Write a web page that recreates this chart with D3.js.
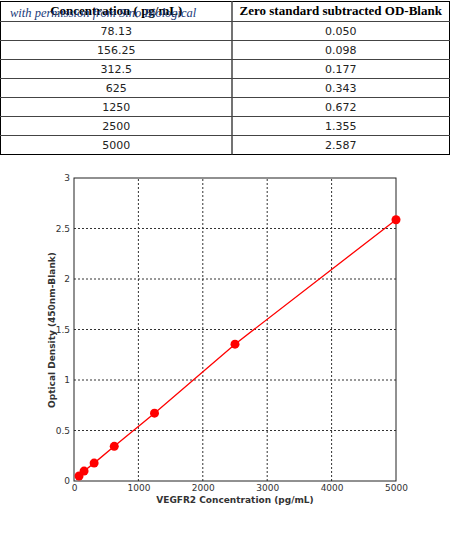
<!DOCTYPE html>
<html><head><meta charset="utf-8">
<script src="https://cdn.jsdelivr.net/npm/d3@7"></script>
<style>body{margin:0;background:#fff}</style>
</head><body>
<svg id="c" width="450" height="542"></svg>
<script>
const concentrations = [78.13, 156.25, 312.5, 625, 1250, 2500, 5000]
const concLabels = ['78.13', '156.25', '312.5', '625', '1250', '2500', '5000']
const odValues = [0.050, 0.098, 0.177, 0.343, 0.672, 1.355, 2.587]
const xTicks = [0, 1000, 2000, 3000, 4000, 5000]
const yTicks = [0, 0.5, 1, 1.5, 2, 2.5, 3]

const svg = d3.select('#c')

// table
const rowH = 19, tblTop = 1, colX = [0.5, 232, 449.5]
const tbl = svg.append('g')
const nRows = concentrations.length + 1
tbl.append('rect').attr('x', colX[0]).attr('y', tblTop + 0.5).attr('width', colX[2] - colX[0]).attr('height', rowH * nRows + 1)
  .attr('fill', 'none').attr('stroke', '#000')
for (let i = 1; i < nRows; i++) {
  tbl.append('line').attr('x1', 0).attr('x2', 450).attr('y1', tblTop + 1 + rowH * i + 0.5).attr('y2', tblTop + 1 + rowH * i + 0.5)
    .attr('stroke', '#444')
}
tbl.append('line').attr('x1', colX[1]).attr('x2', colX[1]).attr('y1', tblTop).attr('y2', tblTop + rowH * nRows + 1.5).attr('stroke', '#444').attr('stroke-width', 1.5)
const hdr = ['Concentration ( pg/mL)', 'Zero standard subtracted OD-Blank']
hdr.forEach((t, i) => tbl.append('text').text(t).attr('x', (colX[i] + colX[i + 1]) / 2).attr('y', tblTop + 14)
  .attr('text-anchor', 'middle').attr('font-family', 'Liberation Serif').attr('font-weight', 'bold').attr('font-size', 13))
concLabels.forEach((t, i) => {
  const ty = tblTop + rowH * (i + 1) + 15
  tbl.append('text').text(t).attr('x', (colX[0] + colX[1]) / 2).attr('y', ty).attr('text-anchor', 'middle')
    .attr('font-family', 'DejaVu Sans').attr('font-size', 11).attr('fill', '#222')
  tbl.append('text').text(odValues[i].toFixed(3)).attr('x', (colX[1] + colX[2]) / 2).attr('y', ty).attr('text-anchor', 'middle')
    .attr('font-family', 'DejaVu Sans').attr('font-size', 11).attr('fill', '#222')
})
tbl.append('text').text('with permission from Sino Biological').attr('x', 10).attr('y', 17)
  .attr('font-family', 'Liberation Serif').attr('font-style', 'italic').attr('font-size', 12.5).attr('fill', '#1a3a7a')

// chart
const x = d3.scaleLinear().domain([0, 5000]).range([74, 396])
const y = d3.scaleLinear().domain([0, 3]).range([481, 178])

const grid = svg.append('g').attr('stroke', '#333').attr('stroke-dasharray', '2,2')
xTicks.slice(1, -1).forEach(t => grid.append('line').attr('x1', x(t)).attr('x2', x(t)).attr('y1', y(0)).attr('y2', y(3)))
yTicks.slice(1, -1).forEach(t => grid.append('line').attr('x1', x(0)).attr('x2', x(5000)).attr('y1', y(t)).attr('y2', y(t)))

svg.append('rect').attr('x', x(0)).attr('y', y(3)).attr('width', x(5000) - x(0)).attr('height', y(0) - y(3))
  .attr('fill', 'none').attr('stroke', '#222')

const xAxis = svg.append('g').attr('transform', `translate(0,${y(0)})`)
  .call(d3.axisBottom(x).tickValues(xTicks).tickSize(0).tickPadding(4).tickFormat(d3.format('d')))
const yAxis = svg.append('g').attr('transform', `translate(${x(0)},0)`)
  .call(d3.axisLeft(y).tickValues(yTicks).tickSize(0).tickPadding(4).tickFormat(d => d))
;[xAxis, yAxis].forEach(a => {
  a.select('.domain').remove()
  a.selectAll('text').attr('font-family', 'DejaVu Sans').attr('font-size', 9).attr('fill', '#333')
})

svg.append('text').text('VEGFR2 Concentration (pg/mL)').attr('x', 235).attr('y', 503).attr('text-anchor', 'middle')
  .attr('font-family', 'DejaVu Sans').attr('font-weight', 'bold').attr('font-size', 9).attr('fill', '#333')
svg.append('text').text('Optical Density (450nm-Blank)').attr('transform', `translate(55,330) rotate(-90)`)
  .attr('text-anchor', 'middle').attr('font-family', 'DejaVu Sans').attr('font-weight', 'bold').attr('font-size', 9).attr('fill', '#333')

const pts = concentrations.map((c, i) => [c, odValues[i]])
svg.append('path').datum(pts).attr('fill', 'none').attr('stroke', 'red').attr('stroke-width', 1.3)
  .attr('d', d3.line().x(d => x(d[0])).y(d => y(d[1])))
svg.selectAll('circle.pt').data(pts).join('circle').attr('class', 'pt')
  .attr('cx', d => x(d[0])).attr('cy', d => y(d[1])).attr('r', 4.5).attr('fill', 'red')
</script>
</body></html>
